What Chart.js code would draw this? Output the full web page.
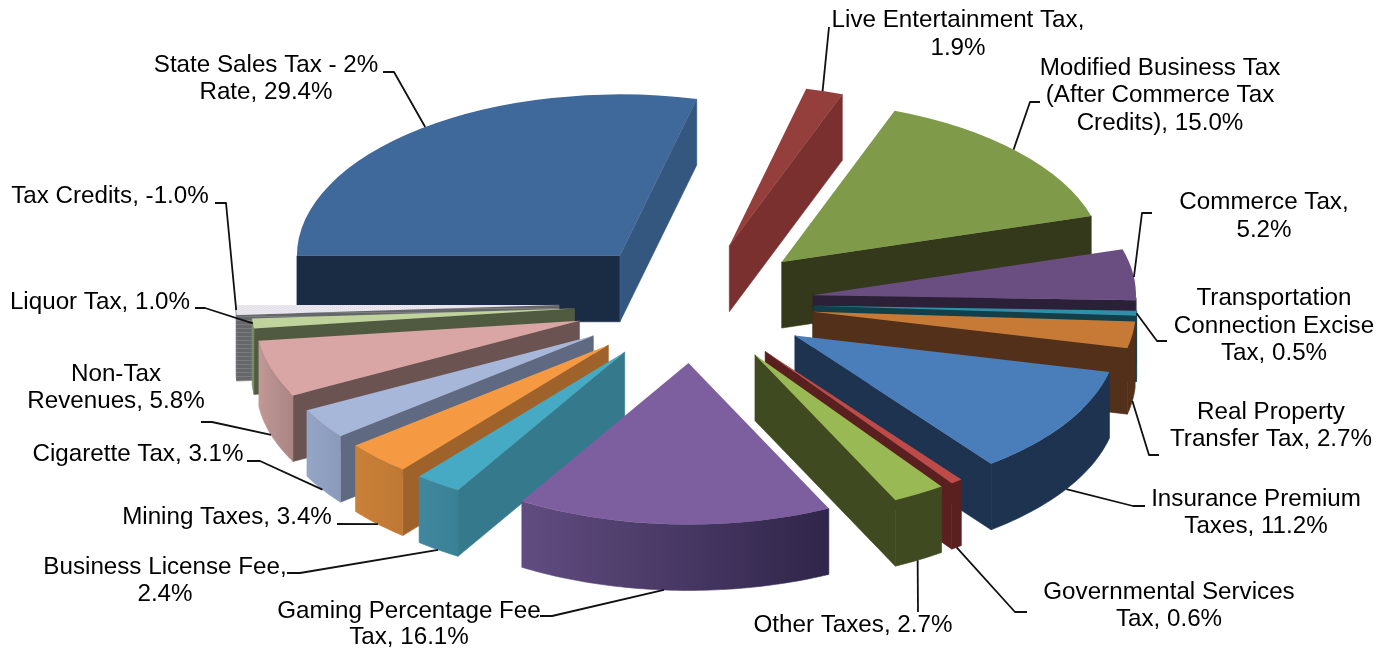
<!DOCTYPE html>
<html>
<head>
<meta charset="utf-8">
<title>Revenue by source</title>
<style>
  html, body { margin: 0; padding: 0; background: #fff; }
  canvas { display: block; }
</style>
<script src="https://cdn.jsdelivr.net/npm/chart.js@4/dist/chart.umd.min.js"></script>
</head>
<body>
<canvas id="pie" width="1387" height="648"></canvas>
<script>
// Revenue sources, clockwise from the 9 o'clock position
const categories = [
  "State Sales Tax - 2% Rate", "Live Entertainment Tax",
  "Modified Business Tax (After Commerce Tax Credits)", "Commerce Tax",
  "Transportation Connection Excise Tax", "Real Property Transfer Tax",
  "Insurance Premium Taxes", "Governmental Services Tax", "Other Taxes",
  "Gaming Percentage Fee Tax", "Business License Fee", "Mining Taxes",
  "Cigarette Tax", "Non-Tax Revenues", "Liquor Tax", "Tax Credits"
];
const shares = [29.4, 1.9, 15.0, 5.2, 0.5, 2.7, 11.2, 0.6, 2.7, 16.1, 2.4, 3.4, 3.1, 5.8, 1.0, -1.0];

// Words per label line
const labelWraps = [[5,2],[3,1],[3,3,2],[2,1],[1,2,2],[2,3],[2,2],[2,2],[3],[3,2],[3,1],[3],[3],[1,2],[3],[3]];

// Slice colours: top face, the two cut walls, and the rim from left to right
const topColors = ["#3f689b","#953f3c","#7f9a48","#6a4e82","#2f8fa8","#c67a35","#4a7ebb","#be4b48","#98b954","#7d5fa0","#46aac5","#f59a42","#a7b7d9","#d9a6a5","#c0d39c","#e9e6ed"];
const startWallColors = ["#1a2c44","#7a302e","#33391a","#2c2038","#123f4a","#52301a","#1d3350","#5a2020","#3f4a20","#362a50","#347a8c","#a0622b","#5f6a82","#6a5350","#4f5a40","#55565a"];
const endWallColors = ["#34577f","#7a302e","#33391a","#2c2038","#123f4a","#52301a","#1d3350","#5a2020","#3f4a20","#362a50","#347a8c","#a0622b","#5f6a82","#6a5350","#4f5a40","#55565a"];
const rimLeftColors = ["#34577f","#7a302e","#33391a","#2c2038","#123f4a","#52301a","#1d3350","#5a2020","#3f4a20","#614c80","#40889f","#c98038","#95a5c6","#c09896","#80916a","#6a6b6d"];
const rimRightColors = ["#34577f","#7a302e","#33391a","#2c2038","#123f4a","#52301a","#1d3350","#5a2020","#3f4a20","#30254a","#3a8095","#bf7833","#8a9abb","#a98583","#76875c","#6a6b6d"];

// Explosion distance of each slice, measured along the untilted pie
const explode = [120, 120, 120, 120, 120, 120, 120, 120, 120, 120, 120, 120, 120, 120, 120, 135];

// Label placement: centre x, centre y of each line, elbow points, and the rim anchor
// (t = position along the slice's arc, h = 1 for the bottom of the wall, 0 for the top face)
const labelPlacement = [
  { x: 266,  y: [64, 91],        elbow: [[383,72],[394,72]],   t: .51, h: 0 },
  { x: 958,  y: [19, 47],        elbow: [[829,27]],            t: .45, h: 0 },
  { x: 1160, y: [67, 94, 122],   elbow: [[1040,102],[1030,102]], t: .48, h: 0 },
  { x: 1264, y: [201, 229],      elbow: [[1152,213],[1142,213]], t: .55, h: 0 },
  { x: 1274, y: [297, 325, 352], elbow: [[1167,341],[1157,341]], t: .5, h: 0 },
  { x: 1271, y: [411, 438],      elbow: [[1159,455],[1149,455]], t: .5, h: 1 },
  { x: 1256, y: [498, 525],      elbow: [[1145,506],[1133,506]], t: .5, h: 1 },
  { x: 1169, y: [591, 618],      elbow: [[1027,612],[1015,612]], t: .5, h: 1 },
  { x: 853,  y: [624],           elbow: [[918,612]],            t: .53, h: 1 },
  { x: 409,  y: [610, 636],      elbow: [[540,616],[552,616]], t: .53, h: 1 },
  { x: 165,  y: [566, 593],      elbow: [[287,573],[300,573]], t: .5,  h: 1 },
  { x: 227,  y: [516],           elbow: [[337,524]],            t: .5,  h: 1 },
  { x: 138,  y: [453],           elbow: [[247,461],[260,461]], t: .5,  h: 1 },
  { x: 116,  y: [373, 400],      elbow: [[201,422],[212,422]], t: .5,  h: 1 },
  { x: 100,  y: [301],           elbow: [[195,308],[205,308]], t: .5,  h: 0 },
  { x: 110,  y: [195],           elbow: [[215,203],[226,203]], t: .5,  h: 0 }
];

// Tilted-pie projection
const PIE_CENTER = { x: 694, y: 303 };
const RIM_RADIUS = 323;
const TILT = 0.5;
const DEPTH = 66;
const TEXT_SHIFT = 1;

function patternFrom(size, paint) {
  const c = document.createElement("canvas");
  c.width = size; c.height = size;
  paint(c.getContext("2d"));
  return document.createElement("canvas").getContext("2d").createPattern(c, "repeat");
}
const dottedFace = patternFrom(4, g => {
  g.fillStyle = "#ebe8ef"; g.fillRect(0, 0, 4, 4);
  g.fillStyle = "#d5d0dc"; g.fillRect(0, 0, 1, 1); g.fillRect(2, 2, 1, 1);
});
const stripedWall = patternFrom(4, g => {
  g.fillStyle = "#66676a"; g.fillRect(0, 0, 4, 4);
  g.fillStyle = "#7a7b7d"; g.fillRect(0, 0, 4, 1);
});
const faceFills = topColors.slice(0, -1).concat(dottedFace);

const tiltedPie = {
  id: "tiltedPie",
  beforeDatasetDraw(chart, args) {
    const ctx = chart.ctx;
    const arcs = chart.getDatasetMeta(args.index).data;
    const radius = arcs[0].outerRadius;
    const scale = RIM_RADIUS / radius;
    const project = (x, y, h) => ({
      x: PIE_CENTER.x + (x - arcs[0].x) * scale,
      y: PIE_CENTER.y + (y - arcs[0].y) * scale * TILT + h * DEPTH
    });
    const shift = i => {
      const mid = (arcs[i].startAngle + arcs[i].endAngle) / 2;
      return { x: explode[i] / scale * Math.cos(mid), y: explode[i] / scale * Math.sin(mid) };
    };
    chart.$rimPoint = (i, t, h) => {
      const arc = arcs[i], d = shift(i);
      const a = arc.startAngle + (arc.endAngle - arc.startAngle) * t;
      return project(arc.x + d.x + radius * Math.cos(a), arc.y + d.y + radius * Math.sin(a), h);
    };
    const fillPath = (pts, fill) => {
      ctx.beginPath();
      pts.forEach((p, k) => k ? ctx.lineTo(p.x, p.y) : ctx.moveTo(p.x, p.y));
      ctx.closePath();
      ctx.fillStyle = fill; ctx.strokeStyle = fill; ctx.lineWidth = 0.6;
      ctx.fill(); ctx.stroke();
    };
    const patterned = arcs.length - 1;

    // Back slices first so nearer ones cover them
    const order = arcs.map((_, i) => i).sort((p, q) => {
      const yOf = a => Math.sin((a.startAngle + a.endAngle) / 2);
      return yOf(arcs[p]) - yOf(arcs[q]);
    });

    order.forEach(i => {
      const arc = arcs[i];
      const d = shift(i);
      const ax = arc.x + d.x, ay = arc.y + d.y;
      const wall = (angle, fill) => {
        const ex = ax + radius * Math.cos(angle), ey = ay + radius * Math.sin(angle);
        fillPath([project(ax, ay, 0), project(ex, ey, 0), project(ex, ey, 1), project(ax, ay, 1)], fill);
      };
      // A cut wall shows only when it faces the viewer
      if (Math.cos(arc.startAngle) < 0) wall(arc.startAngle, i === patterned ? stripedWall : startWallColors[i]);
      if (Math.cos(arc.endAngle) > 0) wall(arc.endAngle, endWallColors[i]);

      // Rim wall: only the near half of the circle shows
      const topEdge = [], botEdge = [];
      const steps = Math.max(4, Math.ceil((arc.endAngle - arc.startAngle) * 180 / Math.PI));
      for (let s = 0; s <= steps; s++) {
        const a = arc.startAngle + (arc.endAngle - arc.startAngle) * s / steps;
        if (Math.sin(a) < 0) continue;
        const x = ax + radius * Math.cos(a), y = ay + radius * Math.sin(a);
        topEdge.push(project(x, y, 0));
        botEdge.push(project(x, y, 1));
      }
      if (topEdge.length > 1) {
        const xs = topEdge.map(p => p.x);
        const grad = ctx.createLinearGradient(Math.min(...xs), 0, Math.max(...xs), 0);
        grad.addColorStop(0, rimLeftColors[i]);
        grad.addColorStop(1, rimRightColors[i]);
        fillPath(topEdge.concat(botEdge.reverse()), i === patterned ? stripedWall : grad);
      }

      // Top face is the library's own arc element under the tilt transform
      ctx.save();
      ctx.translate(PIE_CENTER.x, PIE_CENTER.y);
      ctx.scale(scale, scale * TILT);
      ctx.translate(d.x - arcs[0].x, d.y - arcs[0].y);
      arc.draw(ctx);
      ctx.restore();
    });
    return false;
  },
  afterDraw(chart) {
    const ctx = chart.ctx;
    ctx.save();
    ctx.strokeStyle = "#111";
    ctx.lineWidth = 1.8;
    ctx.lineJoin = "round";
    labelPlacement.forEach((place, i) => {
      const end = chart.$rimPoint(i, place.t, place.h);
      ctx.beginPath();
      place.elbow.forEach((p, k) => k ? ctx.lineTo(p[0], p[1]) : ctx.moveTo(p[0], p[1]));
      ctx.lineTo(end.x, end.y);
      ctx.stroke();
    });
    ctx.fillStyle = "#000";
    ctx.font = '24.2px "Liberation Sans", Arial, sans-serif';
    ctx.textAlign = "center";
    ctx.textBaseline = "middle";
    labelPlacement.forEach((place, i) => {
      const words = (categories[i] + ", " + shares[i].toFixed(1) + "%").split(" ");
      let w = 0;
      labelWraps[i].forEach((count, line) => {
        ctx.fillText(words.slice(w, w + count).join(" "), place.x, place.y[line] + TEXT_SHIFT);
        w += count;
      });
    });
    ctx.restore();
  }
};

new Chart(document.getElementById("pie"), {
  type: "pie",
  data: {
    labels: categories,
    datasets: [{
      data: shares,
      backgroundColor: faceFills,
      borderWidth: 0
    }]
  },
  options: {
    responsive: false,
    animation: false,
    rotation: 270,
    events: [],
    plugins: { legend: { display: false }, tooltip: { enabled: false } }
  },
  plugins: [tiltedPie]
});
</script>
</body>
</html>
